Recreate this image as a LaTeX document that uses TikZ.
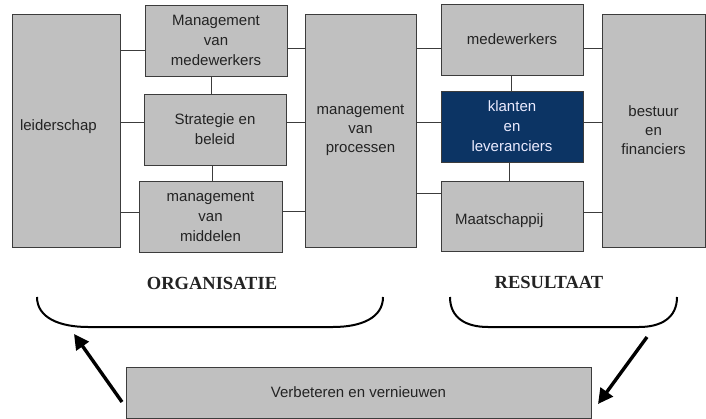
\documentclass[tikz,border=0pt]{standalone}
\usepackage{fontspec}
\setmainfont{Liberation Sans}
\newfontfamily\headfont{Liberation Serif}
\usetikzlibrary{arrows.meta,calc}
\definecolor{boxgray}{RGB}{192,192,192}
\definecolor{edgegray}{RGB}{60,60,60}
\definecolor{navy}{RGB}{12,52,100}
\definecolor{txt}{RGB}{35,35,35}
\begin{document}
\begin{tikzpicture}[x=1pt,y=-1pt,
 box/.style={draw=edgegray, fill=boxgray, line width=0.9pt, inner sep=0pt, align=center, text=txt, font=\fontsize{15}{20}\selectfont},
 darkbox/.style={box, fill=navy, text=white!92!blue},
 link/.style={draw=edgegray, line width=0.9pt},
 heading/.style={font=\headfont\bfseries\fontsize{18.5}{20}\selectfont, text=txt},
 brace/.style={draw=black, line width=2pt},
 bigarrow/.style={draw=black, line width=3.4pt, -{Triangle[length=15pt,width=15pt]}}]
\useasboundingbox (0,0) rectangle (706,419);
\fill[white] (0,0) rectangle (706,419);

% boxes
\node[box, minimum width=108pt, minimum height=233pt, text width=92pt, align=left, text height=10pt, text depth=10pt] (lead) at (66,130.5) {leiderschap};
\node[box, minimum width=142pt, minimum height=71pt] (mm) at (216,40.5) {Management\\van\\medewerkers};
\node[box, minimum width=142pt, minimum height=71pt] (sb) at (215,129.5) {Strategie en\\beleid};
\node[box, minimum width=143pt, minimum height=71pt] (mid) at (210.5,216.5) {management\\van\\middelen};
\node[box, minimum width=111pt, minimum height=233pt, font=\fontsize{15}{19}\selectfont] (proc) at (360.5,130.5) {management\\van\\processen};
\node[box, minimum width=142pt, minimum height=71pt] (med) at (512,39.5) {medewerkers};
\node[darkbox, minimum width=142pt, minimum height=71pt] (kl) at (512,126.5) {klanten\\en\\leveranciers};
\node[box, minimum width=142pt, minimum height=70pt, text width=114pt, align=left, text height=18pt, text depth=0pt] (maat) at (512,216) {Maatschappij};
\node[box, minimum width=103pt, minimum height=233pt, font=\fontsize{15}{19}\selectfont] (best) at (653.5,130.5) {bestuur\\en\\financiers};
\node[box, minimum width=465pt, minimum height=51pt] (verb) at (358.5,392.5) {Verbeteren en vernieuwen};

% connector levels
\coordinate (h48) at (0,48);
\coordinate (h50) at (0,50);
\coordinate (h122) at (0,122);
\coordinate (h193) at (0,193);
\coordinate (h211) at (0,211);
\coordinate (h212) at (0,212);
\coordinate (v211) at (211,0);
\coordinate (v212) at (212,0);
\coordinate (v511) at (511,0);
\coordinate (v509) at (509,0);

\draw[link] (lead.east |- h50) -- (mm.west |- h50);
\draw[link] (lead.east |- h122) -- (sb.west |- h122);
\draw[link] (lead.east |- h212) -- (mid.west |- h212);
\draw[link] (mm.south -| v211) -- (sb.north -| v211);
\draw[link] (sb.south -| v212) -- (mid.north -| v212);
\draw[link] (mm.east |- h48) -- (proc.west |- h48);
\draw[link] (sb.east |- h122) -- (proc.west |- h122);
\draw[link] (mid.east |- h211) -- (proc.west |- h211);
\draw[link] (proc.east |- h48) -- (med.west |- h48);
\draw[link] (proc.east |- h122) -- (kl.west |- h122);
\draw[link] (proc.east |- h193) -- (maat.west |- h193);
\draw[link] (med.east |- h48) -- (best.west |- h48);
\draw[link] (kl.east |- h122) -- (best.west |- h122);
\draw[link] (maat.east |- h212) -- (best.west |- h212);
\draw[link] (med.south -| v511) -- (kl.north -| v511);
\draw[link] (kl.south -| v509) -- (maat.north -| v509);

% headings and braces
\node[heading] (org) at (212,283) {ORGANISATIE};
\node[heading] (res) at (549,282) {RESULTAAT};
\draw[brace] (37,297) .. controls (37,318) and (60,327) .. (88,327) -- (333,327) .. controls (361,327) and (383,318) .. (383,297);
\draw[brace] (450,297) .. controls (450,318) and (466,327) .. (488,327) -- (639,327) .. controls (661,327) and (677,318) .. (677,297);

% arrows
\coordinate (la1) at (122,402);
\coordinate (la2) at (74,334);
\coordinate (ra1) at (647,337);
\coordinate (ra2) at (598,404);
\draw[bigarrow] (la1) -- (la2);
\draw[bigarrow] (ra1) -- (ra2);
\end{tikzpicture}
\end{document}
